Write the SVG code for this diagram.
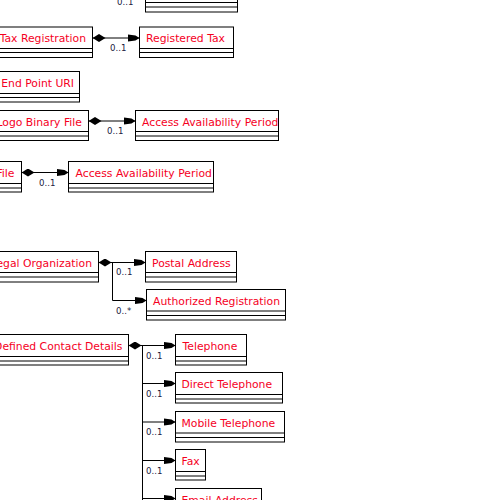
<svg xmlns="http://www.w3.org/2000/svg" width="500" height="500" viewBox="0 0 500 500">
<defs>
<style>
.box{fill:#fff;stroke:#000;stroke-width:1}
.sep{stroke:#000;stroke-width:1;fill:none}
.nm{font-family:"DejaVu Sans",Verdana,sans-serif;font-size:10.8px;fill:#f5001e}
.ln{stroke:#000;stroke-width:1;fill:none}
.mul{font-family:"DejaVu Sans",Verdana,sans-serif;font-size:8.6px;fill:#1a2040}
.dia{fill:#000}
</style>
<marker id="arr" viewBox="0 0 12 8" refX="12" refY="4" markerWidth="12" markerHeight="8" markerUnits="userSpaceOnUse" orient="auto">
<path d="M0,0.5 L8,1.5 L12,4 L8,6.5 L0,7.5 Z" fill="#000"/>
</marker>
<marker id="dia" viewBox="0 0 13 8" refX="0" refY="4" markerWidth="13" markerHeight="8" markerUnits="userSpaceOnUse" orient="auto">
<path d="M0,4 L6.5,0 L13,4 L6.5,8 Z" fill="#000"/>
</marker>
</defs>
<rect width="500" height="500" fill="#fff"/>

<g id="connectors">
<text class="mul" x="117" y="4.5">0..1</text>

<path class="ln" d="M92.5,38 L139.5,38" marker-start="url(#dia)" marker-end="url(#arr)"/>
<text class="mul" x="110" y="51">0..1</text>

<path class="ln" d="M88.5,121 L135.5,121" marker-start="url(#dia)" marker-end="url(#arr)"/>
<text class="mul" x="107" y="133.5">0..1</text>

<path class="ln" d="M21.5,172.5 L68.5,172.5" marker-start="url(#dia)" marker-end="url(#arr)"/>
<text class="mul" x="39" y="186">0..1</text>

<path class="ln" d="M98.5,262.5 L145.5,262.5" marker-start="url(#dia)" marker-end="url(#arr)"/>
<path class="ln" d="M112.5,262.5 L112.5,300.5 L146.5,300.5" marker-end="url(#arr)"/>
<text class="mul" x="116" y="275">0..1</text>
<text class="mul" x="116" y="313.5">0..*</text>

<path class="ln" d="M128.5,345.5 L175.5,345.5" marker-start="url(#dia)" marker-end="url(#arr)"/>
<path class="ln" d="M142.5,345.5 L142.5,500"/>
<path class="ln" d="M142.5,383.5 L175.5,383.5" marker-end="url(#arr)"/>
<path class="ln" d="M142.5,422 L175.5,422" marker-end="url(#arr)"/>
<path class="ln" d="M142.5,460.5 L175.5,460.5" marker-end="url(#arr)"/>
<path class="ln" d="M142.5,498.5 L175.5,498.5" marker-end="url(#arr)"/>
<text class="mul" x="146" y="358.5">0..1</text>
<text class="mul" x="146" y="396.5">0..1</text>
<text class="mul" x="146" y="435">0..1</text>
<text class="mul" x="146" y="473.5">0..1</text>
</g>

<g id="n-top">
<rect class="box" x="145.5" y="-20" width="92" height="32"/>
<path class="sep" d="M145.5,2.5 H237.5 M145.5,7 H237.5"/>
</g>

<g id="n-tax-registration">
<rect class="box" x="-10" y="27" width="102.5" height="30.5"/>
<path class="sep" d="M-10,48.5 H92.5 M-10,52.5 H92.5"/>
<text class="nm" x="86" y="42" text-anchor="end">Tax Registration</text>
</g>

<g id="n-registered-tax">
<rect class="box" x="139.5" y="27" width="94" height="30.5"/>
<path class="sep" d="M139.5,48.5 H233.5 M139.5,52.5 H233.5"/>
<text class="nm" x="146" y="42">Registered Tax</text>
</g>

<g id="n-end-point-uri">
<rect class="box" x="-10" y="71.5" width="89.5" height="30.5"/>
<path class="sep" d="M-10,93.5 H79.5 M-10,97.5 H79.5"/>
<text class="nm" x="74" y="86.5" text-anchor="end">End Point URI</text>
</g>

<g id="n-logo-binary-file">
<rect class="box" x="-10" y="110.5" width="98.5" height="30"/>
<path class="sep" d="M-10,131.5 H88.5 M-10,136 H88.5"/>
<text class="nm" x="82" y="125.5" text-anchor="end">Logo Binary File</text>
</g>

<g id="n-access-availability-period-1">
<rect class="box" x="135.5" y="110.5" width="143" height="30"/>
<path class="sep" d="M135.5,131.5 H278.5 M135.5,136 H278.5"/>
<text class="nm" x="142" y="125.5">Access Availability Period</text>
</g>

<g id="n-file">
<rect class="box" x="-10" y="161.5" width="31.5" height="30.5"/>
<path class="sep" d="M-10,183.5 H21.5 M-10,188 H21.5"/>
<text class="nm" x="14.5" y="176.5" text-anchor="end">File</text>
</g>

<g id="n-access-availability-period-2">
<rect class="box" x="68.5" y="161.5" width="145" height="30.5"/>
<path class="sep" d="M68.5,183.5 H213.5 M68.5,188 H213.5"/>
<text class="nm" x="75.5" y="176.5">Access Availability Period</text>
</g>

<g id="n-legal-organization">
<rect class="box" x="-10" y="251.5" width="108.5" height="30.5"/>
<path class="sep" d="M-10,272.5 H98.5 M-10,277 H98.5"/>
<text class="nm" x="92" y="266.5" text-anchor="end">Legal Organization</text>
</g>

<g id="n-postal-address">
<rect class="box" x="145.5" y="251.5" width="91" height="30.5"/>
<path class="sep" d="M145.5,272.5 H236.5 M145.5,277 H236.5"/>
<text class="nm" x="152" y="266.5">Postal Address</text>
</g>

<g id="n-authorized-registration">
<rect class="box" x="146.5" y="289.5" width="139" height="30.5"/>
<path class="sep" d="M146.5,311 H285.5 M146.5,315.5 H285.5"/>
<text class="nm" x="153" y="304.5">Authorized Registration</text>
</g>

<g id="n-defined-contact-details">
<rect class="box" x="-10" y="334.5" width="138.5" height="30.5"/>
<path class="sep" d="M-10,356.5 H128.5 M-10,361 H128.5"/>
<text class="nm" x="122.5" y="349.5" text-anchor="end">Defined Contact Details</text>
</g>

<g id="n-telephone">
<rect class="box" x="175.5" y="334.5" width="71" height="30.5"/>
<path class="sep" d="M175.5,356.5 H246.5 M175.5,361 H246.5"/>
<text class="nm" x="182.5" y="349.5">Telephone</text>
</g>

<g id="n-direct-telephone">
<rect class="box" x="175.5" y="372.5" width="107" height="30.5"/>
<path class="sep" d="M175.5,394.5 H282.5 M175.5,399 H282.5"/>
<text class="nm" x="181.5" y="387.5">Direct Telephone</text>
</g>

<g id="n-mobile-telephone">
<rect class="box" x="175.5" y="411.5" width="109" height="30.5"/>
<path class="sep" d="M175.5,433 H284.5 M175.5,437.5 H284.5"/>
<text class="nm" x="181.5" y="426.5">Mobile Telephone</text>
</g>

<g id="n-fax">
<rect class="box" x="175.5" y="449.5" width="30" height="30.5"/>
<path class="sep" d="M175.5,471.5 H205.5 M175.5,476 H205.5"/>
<text class="nm" x="181.5" y="464.5">Fax</text>
</g>

<g id="n-email-address">
<rect class="box" x="175.5" y="488.5" width="86" height="30.5"/>
<text class="nm" x="181.5" y="503.5">Email Address</text>
</g>
</svg>
